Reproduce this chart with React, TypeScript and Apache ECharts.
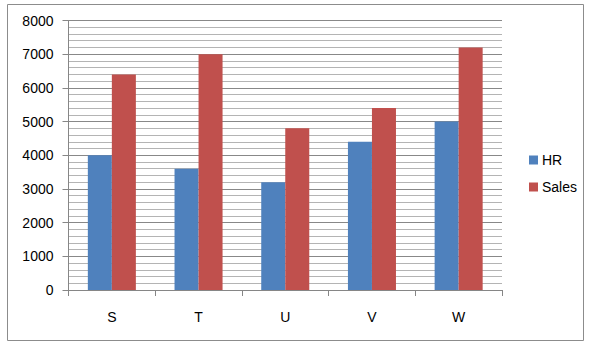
import React, { useEffect, useRef } from "react";
import * as echarts from "echarts";

const categories = ["S", "T", "U", "V", "W"];
const hrValues = [4000, 3600, 3200, 4400, 5000];
const salesValues = [6400, 7000, 4800, 5400, 7200];
const seriesNames = ["HR", "Sales"];

export default function App() {
  const ref = useRef<HTMLDivElement>(null);
  useEffect(() => {
    if (!ref.current) return;
    const chart = echarts.init(ref.current, undefined, { renderer: "svg" });
    const font = "'Liberation Sans', Arial, sans-serif";
    chart.setOption({
      animation: false,
      backgroundColor: "#ffffff",
      textStyle: { fontFamily: font },
      graphic: [
        {
          type: "rect",
          shape: { x: 7.5, y: 4.5, width: 576, height: 336 },
          style: { fill: "none", stroke: "#8c8c8c", lineWidth: 1 },
          silent: true,
        },
      ],
      grid: { left: 68.5, top: 20.5, width: 433.5, height: 269.5, containLabel: false },
      legend: {
        orient: "vertical",
        left: 524,
        top: 148,
        itemWidth: 9,
        itemHeight: 9,
        itemGap: 13,
        icon: "rect",
        textStyle: { fontSize: 14, color: "#000", fontFamily: font, padding: [0, 0, 0, -1] },
        data: seriesNames,
      },
      xAxis: {
        type: "category",
        data: categories,
        boundaryGap: true,
        axisLine: { show: true, lineStyle: { color: "#868686" } },
        axisTick: { show: true, length: 6, lineStyle: { color: "#868686" } },
        axisLabel: { fontSize: 14, color: "#000", margin: 20, fontFamily: font },
      },
      yAxis: {
        type: "value",
        min: 0,
        max: 8000,
        interval: 1000,
        axisLine: { show: true, lineStyle: { color: "#868686" } },
        axisTick: { show: true, length: 6, lineStyle: { color: "#868686" } },
        axisLabel: {
          fontSize: 14,
          color: "#000",
          margin: 15,
          fontFamily: font,
          formatter: (v: number) => String(v),
        },
        splitLine: { show: true, lineStyle: { color: "#888888", width: 1 } },
        minorTick: { show: false, splitNumber: 5 },
        minorSplitLine: { show: true, lineStyle: { color: "#b4b4b4", width: 1 } },
      },
      series: [
        {
          name: seriesNames[0],
          type: "bar",
          data: hrValues,
          itemStyle: { color: "#4f81bd" },
          barGap: "0%",
          barCategoryGap: "44.6%",
        },
        {
          name: seriesNames[1],
          type: "bar",
          data: salesValues,
          itemStyle: { color: "#c0504d" },
          barGap: "0%",
          barCategoryGap: "44.6%",
        },
      ],
    });
    return () => chart.dispose();
  }, []);
  return (
    <div
      ref={ref}
      style={{ position: "fixed", left: 0, top: 0, width: 603, height: 356 }}
    />
  );
}
